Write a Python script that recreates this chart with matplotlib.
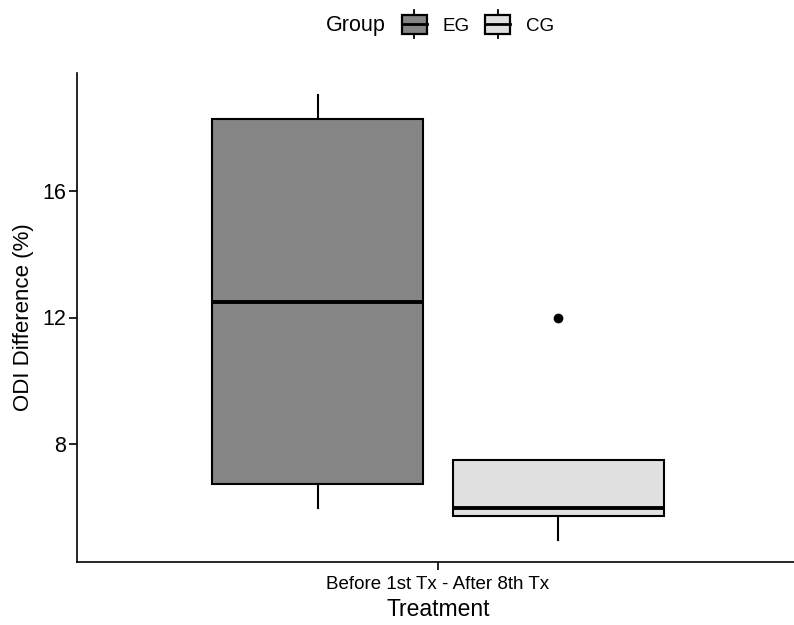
import matplotlib
matplotlib.use("Agg")
import matplotlib.pyplot as plt
from matplotlib.legend_handler import HandlerBase
from matplotlib.patches import Rectangle
from matplotlib.lines import Line2D

plt.rcParams['font.family'] = ['Liberation Sans', 'DejaVu Sans']

# values
groups = ['EG', 'CG']
colors = ['#858585', '#E0E0E0']
q1 = [6.74, 5.73]
med = [12.5, 6.0]
q3 = [18.27, 7.5]
whislo = [6.0, 5.0]
whishi = [19.0, 7.5]
outliers = [[], [12.0]]
category = 'Before 1st Tx - After 8th Tx'
offsets = [-0.2, 0.2]


class BoxKey(HandlerBase):
    # legend key drawn like a small boxplot
    def create_artists(self, legend, orig, xd, yd, w, h, fs, trans):
        x0, yb = -xd, -yd
        yc = yb + h / 2
        bh = fs * 1.0
        wh = fs * 0.75
        rect = Rectangle((x0, yc - bh / 2), w, bh, facecolor=orig.get_facecolor(),
                         edgecolor='black', lw=1.6, transform=trans)
        mid = Line2D([x0, x0 + w], [yc, yc], color='black', lw=2, transform=trans)
        top = Line2D([x0 + w / 2] * 2, [yc + bh / 2, yc + wh], color='black', lw=1.3, transform=trans)
        bot = Line2D([x0 + w / 2] * 2, [yc - bh / 2, yc - wh], color='black', lw=1.3, transform=trans)
        return [rect, mid, top, bot]


fig = plt.figure(figsize=(7.94, 6.25), dpi=100)
ax = fig.add_axes([0.097, 0.101, 0.909, 0.782])

stats = []
for i in range(len(groups)):
    stats.append(dict(label=groups[i], med=med[i], q1=q1[i], q3=q3[i],
                      whislo=whislo[i], whishi=whishi[i], fliers=outliers[i]))

bp = ax.bxp(stats, positions=[1 + o for o in offsets], widths=0.351, patch_artist=True,
            showcaps=False, manage_ticks=False,
            boxprops=dict(edgecolor='black', linewidth=1.5),
            medianprops=dict(color='black', linewidth=2.8),
            whiskerprops=dict(color='black', linewidth=1.5),
            flierprops=dict(marker='o', markerfacecolor='black', markeredgecolor='black', markersize=6))
for patch, c in zip(bp['boxes'], colors):
    patch.set_facecolor(c)

ax.set_xlim(0.4, 1.6)
ax.set_ylim(4.3, 19.7)
ax.set_xticks([1])
ax.set_xticklabels([category], fontsize=13.5)
ax.set_yticks([8, 12, 16])
ax.tick_params(axis='y', labelsize=15.5, length=6, width=1.2, pad=2)
ax.tick_params(axis='x', length=6, width=1.2, pad=4.5)
ax.set_xlabel('Treatment', fontsize=16.5, labelpad=3)
ax.set_ylabel('ODI Difference (%)', fontsize=16, labelpad=6)
for s in ['top', 'right']:
    ax.spines[s].set_visible(False)
for s in ['left', 'bottom']:
    ax.spines[s].set_linewidth(1.2)

handles = [Rectangle((0, 0), 1, 1, facecolor=c) for c in colors]
fig.text(0.411, 0.959, 'Group', fontsize=15.5, ha='left', va='center')
fig.legend(handles, groups, handler_map={Rectangle: BoxKey()}, loc='center left',
           bbox_to_anchor=(0.494, 0.961), ncol=2, frameon=False, fontsize=13.5,
           handlelength=1.35, handleheight=1.4, handletextpad=0.85, columnspacing=0.8,
           borderpad=0)

fig.savefig('out.png', dpi=100)
